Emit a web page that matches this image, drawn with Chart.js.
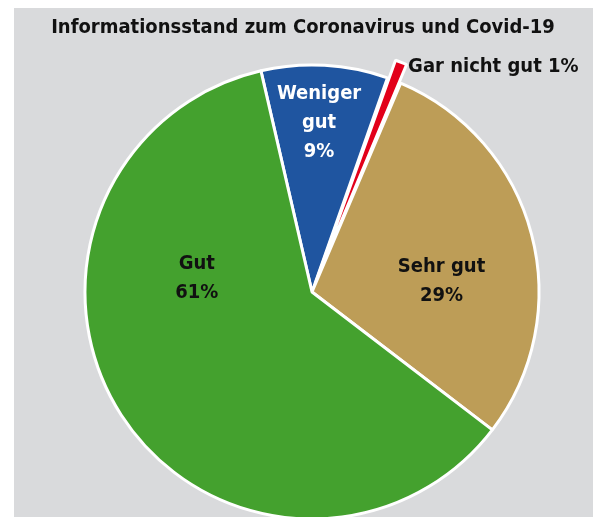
<!DOCTYPE html>
<html>
<head>
<meta charset="utf-8">
<script src="https://cdn.jsdelivr.net/npm/chart.js@4/dist/chart.umd.min.js"></script>
<style>
  html, body { margin: 0; padding: 0; background: #ffffff; overflow: hidden; }
  #wrap { position: relative; width: 599px; height: 517px; }
</style>
</head>
<body>
<div id="wrap"><canvas id="c" width="599" height="517"></canvas></div>
<script>
// ---- data ----
const chartTitle = "Informationsstand zum Coronavirus und Covid-19";
const categories = ["Weniger gut", "Gar nicht gut", "Sehr gut", "Gut"];
const values = [9, 1, 29, 61];
const labelLines = [["Weniger", "gut", "9%"], ["Gar nicht gut 1%"], ["Sehr gut", "29%"], ["Gut", "61%"]];

// ---- style ----
const colors = ["#1f55a0", "#e2001a", "#bd9d57", "#44a12e"];
const offsets = [0, 40, 0, 0];
const labelColors = ["#ffffff", "#111111", "#111111", "#111111"];
const labelPlace = [
  { angle: 2.4, dist: 169, align: "center" },
  { angle: 23.1, dist: 245, align: "left" },
  { angle: 85.2, dist: 130, align: "center" },
  { angle: -83.1, dist: 116, align: "center" }
];
const FONT = '"DejaVu Sans Condensed", "Liberation Sans Narrow", sans-serif';

const bgPlugin = {
  id: "bg",
  beforeDraw(chart) {
    const ctx = chart.ctx;
    ctx.save();
    ctx.fillStyle = "#ffffff";
    ctx.fillRect(0, 0, chart.width, chart.height);
    ctx.fillStyle = "#d9dadc";
    ctx.fillRect(14, 8, 579, chart.height - 8);
    ctx.fillStyle = "#111111";
    ctx.font = "bold 20px " + FONT;
    ctx.textAlign = "center";
    ctx.textBaseline = "middle";
    ctx.fillText(chartTitle, 303, 28);
    ctx.restore();
  }
};

const labelPlugin = {
  id: "sliceLabels",
  afterDatasetsDraw(chart) {
    const ctx = chart.ctx;
    const meta = chart.getDatasetMeta(0);
    ctx.save();
    ctx.font = "bold 20px " + FONT;
    ctx.textBaseline = "middle";
    meta.data.forEach((arc, i) => {
      const p = labelPlace[i];
      const a = p.angle * Math.PI / 180;
      const cx = arc.x + p.dist * Math.sin(a);
      const cy = arc.y - p.dist * Math.cos(a);
      const lines = labelLines[i];
      const lh = 29;
      ctx.fillStyle = labelColors[i];
      ctx.textAlign = p.align;
      lines.forEach((t, j) => {
        ctx.fillText(t, cx, cy + (j - (lines.length - 1) / 2) * lh);
      });
    });
    ctx.restore();
  }
};

new Chart(document.getElementById("c"), {
  type: "pie",
  data: {
    labels: categories,
    datasets: [{
      data: values,
      backgroundColor: colors,
      borderColor: "#ffffff",
      borderWidth: 3,
      offset: offsets
    }]
  },
  options: {
    responsive: false,
    animation: false,
    rotation: -13,
    radius: 227,
    layout: { padding: { top: 67, bottom: 0, left: 25, right: 0 } },
    plugins: {
      legend: { display: false },
      tooltip: { enabled: false },
      title: { display: false }
    }
  },
  plugins: [bgPlugin, labelPlugin]
});
</script>
</body>
</html>
